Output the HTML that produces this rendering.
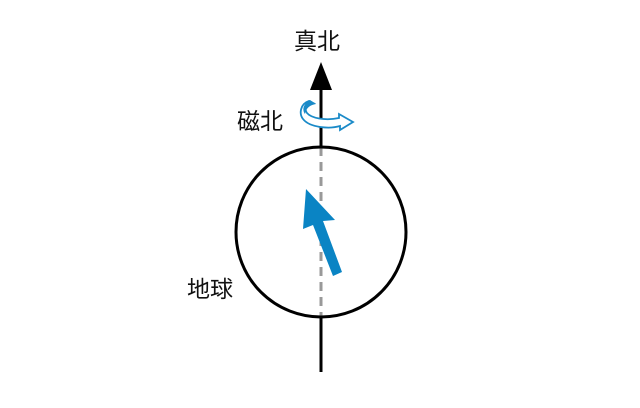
<!DOCTYPE html>
<html><head><meta charset="utf-8"><style>
body{margin:0;background:#fff;}
svg text{font-family:"Liberation Sans","Noto Sans CJK JP",sans-serif;font-size:23px;fill:#111;}
</style></head><body>
<svg width="640" height="403" xmlns="http://www.w3.org/2000/svg">
<rect width="640" height="403" fill="#fff"/>
<text x="294" y="49">真北</text>
<text x="237" y="129">磁北</text>
<text x="187" y="297">地球</text>
<polygon points="321,62 310,90 332,90" fill="#000"/>
<line x1="321" y1="88" x2="321" y2="147" stroke="#000" stroke-width="3"/>
<line x1="321" y1="147" x2="321" y2="317" stroke="#999" stroke-width="3" stroke-dasharray="9,6"/>
<line x1="321" y1="316" x2="321" y2="372" stroke="#000" stroke-width="3"/>
<circle cx="321" cy="232" r="85" fill="none" stroke="#000" stroke-width="3"/>
<path d="M309,101 C300,104 299,114 303,119 C310,128 330,129 340,126 L340,130 L353,122 L339,114 L339,118 C325,121 311,118 307,113 C304,109 306,104 313,103 Z" fill="#fff" stroke="#1a8ac8" stroke-width="1.8"/>
<path d="M310,100 C303,104 302,110 305,114 C306,108 310,105 316,104 Z" fill="#1a8ac8"/>
<polygon points="306,189 303,229 313,225 333,276 342,272 323,221 335,220" fill="#0a84c4"/>
</svg>
</body></html>
